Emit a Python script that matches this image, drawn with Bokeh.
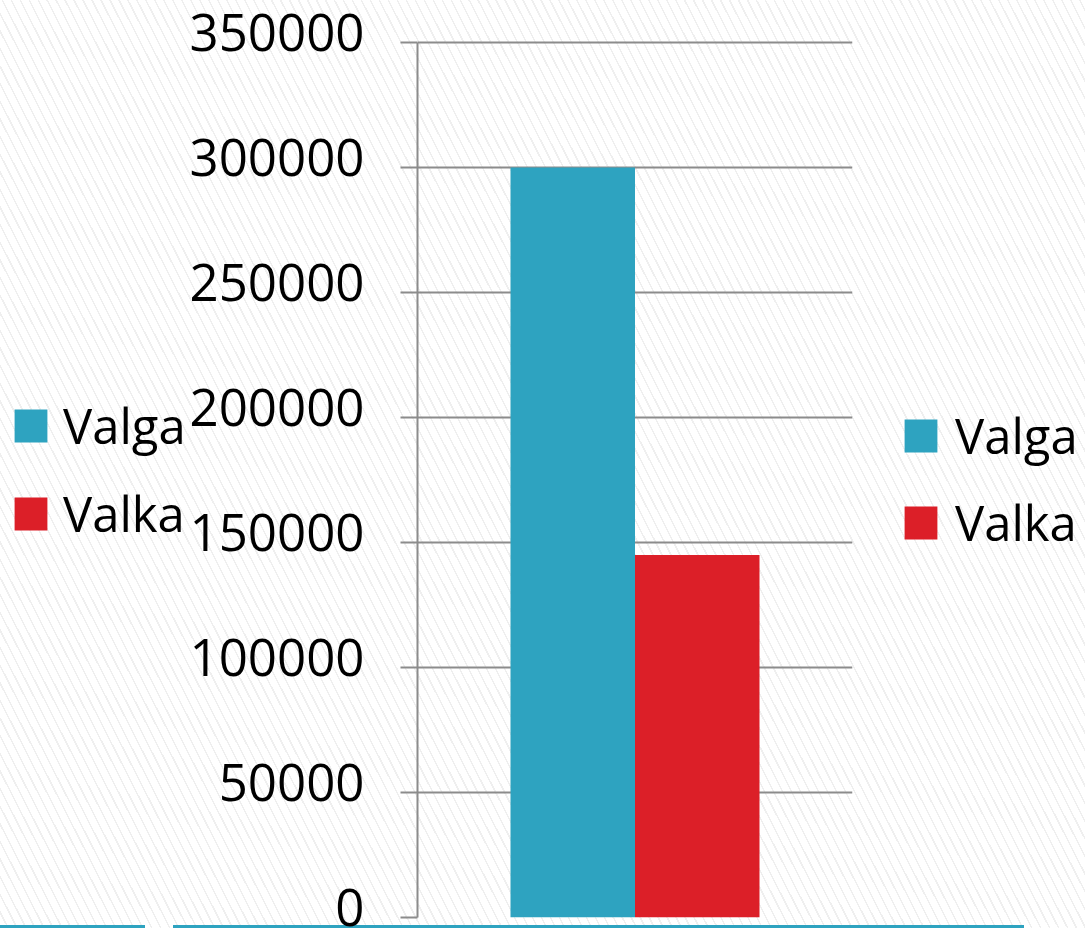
from bokeh.plotting import figure
from bokeh.layouts import row
from bokeh.models import (FactorRange, Range1d, Legend, LegendItem, ColumnDataSource,
                          FixedTicker, PrintfTickFormatter, LinearAxis)
from bokeh.embed import file_html
from bokeh.resources import INLINE

# ---- data ----
categories = ["Valga", "Valka"]
values = [300000, 145000]
colors = ["#2EA3C0", "#DC1F28"]
y_ticks = [0, 50000, 100000, 150000, 200000, 250000, 300000, 350000]

W, H = 1085, 928
FONT = "Open Sans"
Y0, Y1 = 0, 350000
PX = 400            # data units per pixel on the y axis (875 px for 350000)
TOP_PAD = 12        # extra frame above the top grid line (px)
LABEL_SHIFT = 10    # tick labels sit a few px above their grid lines

WL = 185            # left legend strip
WR = 225            # right legend strip
WM = W - WL - WR    # main chart

src = ColumnDataSource(dict(cat=categories, val=values, color=colors))

# ---------------- main chart ----------------
p = figure(width=WM, height=H,
           x_range=FactorRange(factors=categories, range_padding=0.747,
                               range_padding_units="absolute"),
           y_range=Range1d(Y0, Y1 + TOP_PAD * PX),
           output_backend="svg", toolbar_location=None,
           x_axis_location=None, y_axis_location=None,
           min_border_left=417 - WL, min_border_right=(W - WR) - 852,
           min_border_top=42 - TOP_PAD, min_border_bottom=11)
p.extra_y_ranges = {"labels": Range1d(Y0 - LABEL_SHIFT * PX,
                                      Y1 + (TOP_PAD - LABEL_SHIFT) * PX)}
p.border_fill_color = None
p.background_fill_color = None
p.outline_line_color = None

r = p.vbar(x="cat", top="val", width=1.0, color="color", source=src, line_color=None)

# axis line + ticks (labels blank)
ax = LinearAxis(ticker=FixedTicker(ticks=y_ticks), bounds=(Y0, Y1),
                major_label_overrides={t: "" for t in y_ticks})
ax.major_label_standoff = 0
ax.major_tick_out = 17
ax.major_tick_in = 0
ax.minor_tick_out = 0
ax.minor_tick_in = 0
ax.major_tick_line_color = "#8c8c8c"
ax.major_tick_line_width = 2
ax.axis_line_color = "#8c8c8c"
ax.axis_line_width = 2
p.add_layout(ax, "left")

# tick labels
lab = LinearAxis(ticker=FixedTicker(ticks=y_ticks), y_range_name="labels",
                 formatter=PrintfTickFormatter(format="%d"))
lab.major_label_text_font = FONT
lab.major_label_text_font_size = "51px"
lab.major_label_text_color = "#000000"
lab.major_label_standoff = 36
lab.major_tick_out = 0
lab.major_tick_in = 0
lab.minor_tick_out = 0
lab.minor_tick_in = 0
lab.axis_line_color = None
lab.major_tick_line_color = None
p.add_layout(lab, "left")

p.xgrid.visible = False
p.ygrid.grid_line_color = "#8c8c8c"
p.ygrid.grid_line_width = 2
p.ygrid.ticker = FixedTicker(ticks=y_ticks)


# ---------------- legend strips ----------------
def legend_strip(width, loc, spacing, standoff):
    f = figure(width=width, height=H,
               x_range=FactorRange(factors=categories), y_range=Range1d(-2e7, -1e7),
               output_backend="svg", toolbar_location=None,
               x_axis_location=None, y_axis_location=None,
               min_border=0)
    f.border_fill_color = None
    f.background_fill_color = None
    f.outline_line_color = None
    f.grid.visible = False
    # zero-width, out-of-view copy of the bars: only feeds the legend swatches
    rr = f.vbar(x="cat", top="val", width=0.0, color="color", source=src, line_color=None)
    items = [LegendItem(label=c, renderers=[rr], index=i) for i, c in enumerate(categories)]
    leg = Legend(items=items, location=loc, orientation="vertical",
                 glyph_width=41, glyph_height=41, label_height=33,
                 label_standoff=standoff, spacing=spacing, padding=0, margin=0,
                 border_line_color=None, background_fill_alpha=0,
                 label_text_font=FONT, label_text_font_size="49px",
                 label_text_color="#000000")
    f.add_layout(leg, "center")
    return f


fl = legend_strip(WL, (10, 371), 22, 12)
fr = legend_strip(WR, (900 - (W - WR), 362), 21, 14)

hatch = "repeating-linear-gradient(63deg, #ffffff 0px, #ffffff 6.5px, #efefef 6.5px, #efefef 8px)"
teal = "linear-gradient(#2EA3C0, #2EA3C0)"
layout = row(fl, p, fr, spacing=0)
layout.styles = {
    "background-color": "#ffffff",
    "background-image": f"{teal}, {teal}, {hatch}",
    "background-size": "145px 3px, 851px 3px, auto",
    "background-position": "0px 925px, 173px 925px, 0px 0px",
    "background-repeat": "no-repeat, no-repeat, repeat",
}

open("out.html", "w").write(file_html(layout, INLINE))
